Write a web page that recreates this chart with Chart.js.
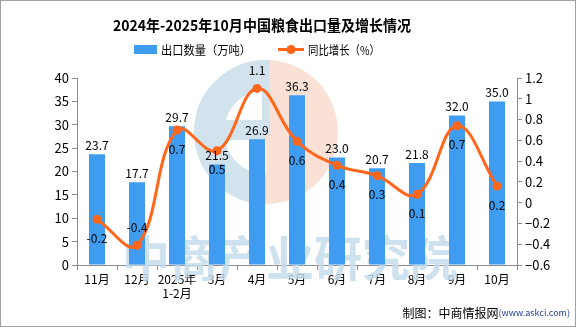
<!DOCTYPE html>
<html>
<head>
<meta charset="utf-8">
<script src="https://cdn.jsdelivr.net/npm/chart.js@4/dist/chart.umd.min.js"></script>
<style>
body { margin: 0; background: #fff; }
#wrap { width: 576px; height: 327px; }
</style>
</head>
<body>
<div id="wrap"><canvas id="chart" width="576" height="327"></canvas></div>
<script>
const months = ['11月', '12月', ['2025年', '1-2月'], '3月', '4月', '5月', '6月', '7月', '8月', '9月', '10月'];
const exportVolume = [23.7, 17.7, 29.7, 21.5, 26.9, 36.3, 23.0, 20.7, 21.8, 32.0, 35.0];
const yoyGrowth = [-0.16, -0.41, 0.70, 0.50, 1.10, 0.59, 0.36, 0.26, 0.08, 0.74, 0.16];
const leftTicks = [0, 5, 10, 15, 20, 25, 30, 35, 40];
const rightTicks = [-0.6, -0.4, -0.2, 0, 0.2, 0.4, 0.6, 0.8, 1, 1.2];

const blue = '#3f9cf0';
const orange = '#ff661a';
const axisGray = '#8c8c8c';
const cjk = '"Noto Sans CJK SC", sans-serif';

// frame, title, legend, watermark
const decor = {
    id: 'decor',
    beforeDatasetsDraw(chart) {
        const ctx = chart.ctx;
        ctx.save();
        // logo watermark
        const cx = 266, cy = 132;
        ctx.fillStyle = '#f9e1d6';
        ctx.beginPath();
        ctx.moveTo(cx, cy - 72);
        ctx.arc(cx, cy, 72, -Math.PI / 2, Math.PI / 2);
        ctx.closePath();
        ctx.fill();
        ctx.strokeStyle = '#d2e3ee';
        ctx.lineWidth = 30;
        ctx.beginPath();
        ctx.arc(cx, cy, 57, Math.PI / 2, Math.PI * 1.5);
        ctx.stroke();
        ctx.fillStyle = '#d2e3ee';
        ctx.fillRect(cx - 50, cy - 12, 50, 20);
        ctx.fillRect(cx - 4, cy - 72, 8, 75);
        // text watermark
        ctx.fillStyle = 'rgba(196,220,236,0.85)';
        ctx.font = 'bold 48px ' + cjk;
        ctx.textAlign = 'center';
        ctx.textBaseline = 'middle';
        ctx.fillText('中商产业研究院', 290, 258, 360);
        ctx.restore();
    },
    afterDraw(chart) {
        const ctx = chart.ctx;
        ctx.save();
        ctx.strokeStyle = '#a0a0a0';
        ctx.lineWidth = 1;
        ctx.strokeRect(0.5, 0.5, 575, 326);
        ctx.fillStyle = '#000';
        ctx.textBaseline = 'middle';
        ctx.textAlign = 'center';
        ctx.font = 'bold 15px ' + cjk;
        ctx.fillText('2024年-2025年10月中国粮食出口量及增长情况', 262, 25, 298);
        // legend
        ctx.font = '12px ' + cjk;
        ctx.textAlign = 'left';
        ctx.fillStyle = blue;
        ctx.fillRect(134, 45, 23, 9);
        ctx.fillStyle = '#000';
        ctx.fillText('出口数量（万吨）', 161, 50, 90);
        ctx.strokeStyle = orange;
        ctx.lineWidth = 3;
        ctx.beginPath();
        ctx.moveTo(278, 49.5);
        ctx.lineTo(304, 49.5);
        ctx.stroke();
        ctx.fillStyle = orange;
        ctx.beginPath();
        ctx.arc(291, 49.5, 4.5, 0, Math.PI * 2);
        ctx.fill();
        ctx.fillStyle = '#000';
        ctx.fillText('同比增长（%）', 308, 50, 72);
        // credit
        ctx.textAlign = 'right';
        ctx.font = '9px ' + cjk;
        ctx.fillStyle = '#1f3f8f';
        ctx.fillText('(www.askci.com)', 570, 313);
        const w = ctx.measureText('(www.askci.com)').width;
        ctx.font = '12px ' + cjk;
        ctx.fillStyle = '#000';
        ctx.fillText('制图：中商情报网', 570 - w, 313);
        ctx.restore();
    }
};

// value labels
const valueLabels = {
    id: 'valueLabels',
    afterDatasetsDraw(chart) {
        const ctx = chart.ctx;
        ctx.save();
        ctx.font = '12px ' + cjk;
        ctx.fillStyle = '#000';
        ctx.textAlign = 'center';
        ctx.textBaseline = 'middle';
        chart.getDatasetMeta(0).data.forEach((bar, i) => {
            ctx.fillText(exportVolume[i].toFixed(1), bar.x, bar.y - 9);
        });
        chart.getDatasetMeta(1).data.forEach((pt, i) => {
            // 4月 and 12月 labels sit above their points
            const above = i === 1 || i === 4;
            ctx.fillText(yoyGrowth[i].toFixed(1), pt.x, above ? pt.y - 18 : pt.y + 19);
        });
        ctx.restore();
    }
};

new Chart(document.getElementById('chart'), {
    data: {
        labels: months,
        datasets: [
            {
                type: 'bar',
                label: '出口数量（万吨）',
                data: exportVolume,
                backgroundColor: blue,
                barPercentage: 0.4,
                categoryPercentage: 1,
                yAxisID: 'y',
                order: 2
            },
            {
                type: 'line',
                label: '同比增长（%）',
                data: yoyGrowth,
                borderColor: orange,
                backgroundColor: orange,
                borderWidth: 3,
                pointRadius: 4.5,
                pointBackgroundColor: orange,
                pointBorderWidth: 0,
                tension: 0.4,
                yAxisID: 'y1',
                order: 1
            }
        ]
    },
    options: {
        responsive: false,
        animation: false,
        layout: { padding: { top: 78, left: 0, right: 0, bottom: 0 } },
        plugins: { legend: { display: false }, title: { display: false }, tooltip: { enabled: false } },
        scales: {
            x: {
                offset: true,
                grid: { offset: true, drawOnChartArea: false, drawTicks: true, tickLength: 5, color: axisGray },
                border: { color: axisGray },
                ticks: { color: '#000', font: { size: 12, family: cjk }, padding: 2, maxRotation: 0, autoSkip: false },
                afterFit(s) { s.height = 62; }
            },
            y: {
                position: 'left',
                min: 0, max: 40,
                afterBuildTicks(s) { s.ticks = leftTicks.map(v => ({ value: v })); },
                grid: { drawOnChartArea: false, drawTicks: true, tickLength: 5, color: axisGray },
                border: { color: axisGray },
                ticks: { color: '#000', font: { size: 13, family: cjk }, padding: 3 },
                afterFit(s) { s.width = 77; }
            },
            y1: {
                position: 'right',
                min: -0.6, max: 1.2,
                afterBuildTicks(s) { s.ticks = rightTicks.map(v => ({ value: v })); },
                grid: { drawOnChartArea: false, drawTicks: true, tickLength: 5, color: axisGray },
                border: { color: axisGray },
                ticks: { color: '#000', font: { size: 13, family: cjk }, padding: 3,
                    callback: v => (Math.round(v * 10) / 10).toString().replace('-', '−') },
                afterFit(s) { s.width = 59; }
            }
        }
    },
    plugins: [decor, valueLabels]
});
</script>
</body>
</html>
